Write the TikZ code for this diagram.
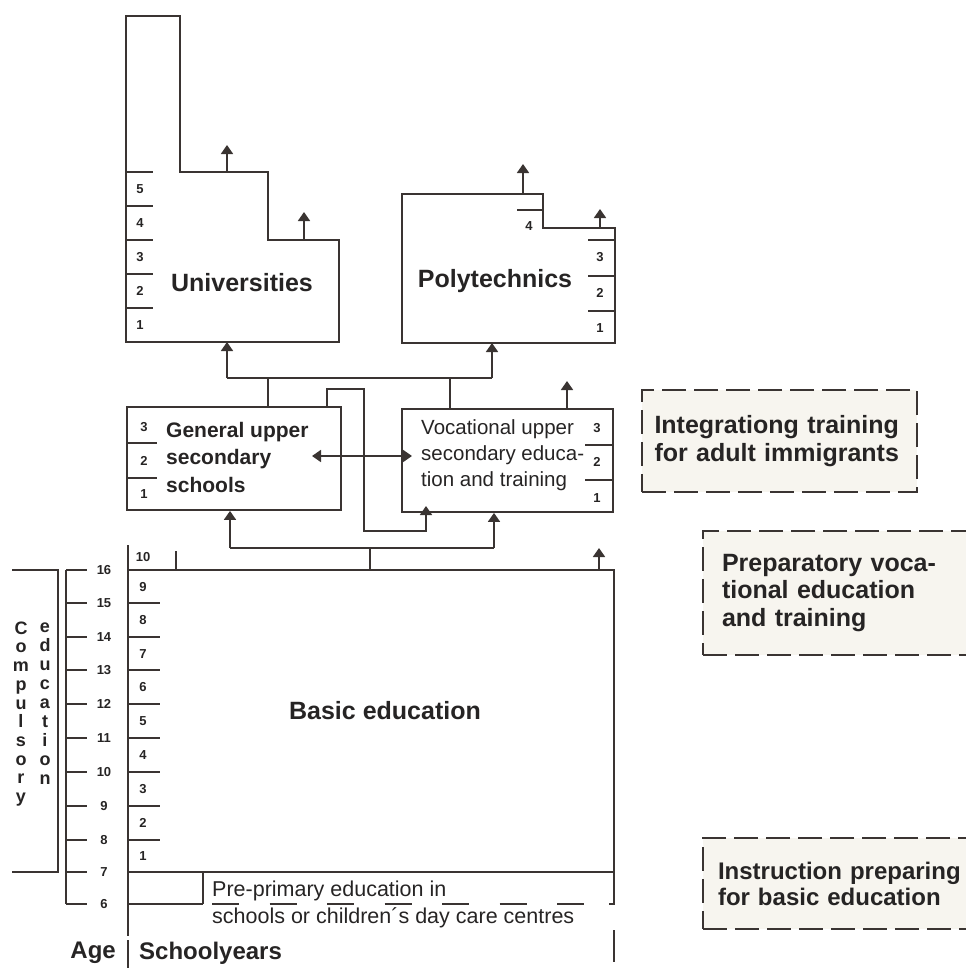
\documentclass[tikz,border=0pt]{standalone}
\usepackage{fontspec}
\setmainfont{Liberation Sans}
\usetikzlibrary{arrows.meta, positioning}
\definecolor{lineink}{RGB}{58,52,50}
\definecolor{textink}{RGB}{38,36,36}
\definecolor{boxfill}{RGB}{247,245,239}

\begin{document}
\begin{tikzpicture}[
    x=1pt, y=-1pt,
    line/.style={draw=lineink, line width=1.8pt, line join=miter},
    arr/.style={line, -{Triangle[width=12pt,length=9pt]}},
    box/.style={line, inner sep=0pt},
    dbox/.style={draw=lineink, line width=1.8pt, fill=boxfill, dash pattern=on 24pt off 8pt, inner sep=0pt, align=left, text=textink},
    yr/.style={font=\fontsize{13}{13}\selectfont\bfseries, text=textink, inner sep=0pt},
    big/.style={font=\fontsize{25}{28}\selectfont\bfseries, text=textink, inner sep=0pt},
    mid/.style={font=\fontsize{21}{27}\selectfont, text=textink, align=left, inner sep=0pt}
]
    \useasboundingbox (0,0) rectangle (966,980);
    \clip (0,0) rectangle (966,980);

    % Universities
    \draw[line] (126,16) -- (180,16) -- (180,172) -- (268,172) -- (268,240) -- (339,240) -- (339,342) -- (126,342) -- cycle;
    \foreach \k/\n in {0/5,1/4,2/3,3/2,4/1} {
        \draw[line] (126,{172+\k*34}) -- (153,{172+\k*34});
        \node[yr] (uy\n) at (140,{189+\k*34}) {\n};
    }
    \node[big] (univ) at (242,283) {Universities};
    \coordinate (univS1) at (227,172);
    \coordinate (univO1) at (227,145);
    \coordinate (univS2) at (304,240);
    \coordinate (univO2) at (304,212);
    \coordinate (univB) at (227,342);
    \draw[arr] (univS1) -- (univO1);
    \draw[arr] (univS2) -- (univO2);

    % Polytechnics
    \draw[line] (402,194) -- (543,194) -- (543,228) -- (615,228) -- (615,343) -- (402,343) -- cycle;
    \draw[line] (517,210) -- (543,210);
    \node[yr] (py4) at (529,226) {4};
    \foreach \y/\n in {240/3,276/2,311/1} {
        \draw[line] (588,\y) -- (615,\y);
        \node[yr] (py\n) at (600,{\y+17}) {\n};
    }
    \node[big] (poly) at (495,281) {Polytechnics};
    \coordinate (polyS1) at (523,194);
    \coordinate (polyO1) at (523,164);
    \coordinate (polyS2) at (600,228);
    \coordinate (polyO2) at (600,209);
    \coordinate (polyB) at (492,343);
    \draw[arr] (polyS1) -- (polyO1);
    \draw[arr] (polyS2) -- (polyO2);

    % Upper secondary
    \node[box, minimum width=214pt, minimum height=103pt] (gen) at (234,458.5) {};
    \draw[line] (127,443) -- (157,443) (127,478) -- (157,478);
    \node[yr] (gy3) at (144,427) {3};
    \node[yr] (gy2) at (144,461) {2};
    \node[yr] (gy1) at (144,494) {1};
    \node[mid, font=\fontsize{21}{27.5}\selectfont\bfseries, anchor=west] (gentxt) at (166,457) {General upper\\secondary\\schools};

    \node[box, minimum width=211pt, minimum height=103pt] (voc) at (507.5,460.5) {};
    \draw[line] (585,445) -- (613,445) (585,480) -- (613,480);
    \node[yr] (vy3) at (597,428) {3};
    \node[yr] (vy2) at (597,462) {2};
    \node[yr] (vy1) at (597,498) {1};
    \node[mid, font=\fontsize{20.5}{26}\selectfont, anchor=west] (voctxt) at (421,455) {Vocational upper\\secondary educa-\\tion and training};

    % to higher education
    \coordinate (upL) at (227,378);
    \coordinate (upR) at (492,378);
    \coordinate (genT) at (268,407);
    \coordinate (vocT) at (450,409);
    \draw[line] (upL) -- (upR);
    \draw[arr] (upL) -- (univB);
    \draw[arr] (upR) -- (polyB);
    \draw[line] (genT) -- (genT |- upL);
    \draw[line] (vocT) -- (vocT |- upR);
    \coordinate (vocS) at (567,409);
    \coordinate (vocO) at (567,381);
    \draw[arr] (vocS) -- (vocO);

    % between the two
    \coordinate (dL) at (312,456);
    \coordinate (dR) at (412,456);
    \draw[line, {Triangle[width=12pt,length=9pt]}-{Triangle[width=12pt,length=9pt]}] (dL) -- (dR);
    \coordinate (crA) at (327,407);
    \coordinate (crB) at (426,506);
    \draw[arr] (crA) |- (364,389) |- (426,531) -- (crB);

    % from basic education
    \coordinate (loL) at (230,548);
    \coordinate (loR) at (494,548);
    \coordinate (loS) at (370,548);
    \coordinate (basT) at (370,570);
    \draw[line] (loL) -- (loR);
    \draw[arr] (loL) -- (loL |- gen.south);
    \draw[arr] (loR) -- (loR |- voc.south);
    \draw[line] (loS) -- (basT);

    % Basic education
    \draw[line] (128,545) -- (128,936);
    \draw[line] (128,570) -- (614,570) -- (614,904) -- (609,904);
    \draw[line] (176,551) -- (176,570);
    \draw[line] (128,872) -- (614,872);
    \draw[line] (203,872) -- (203,904);
    \draw[line] (128,904) -- (203,904);
    \draw[line, dash pattern=on 27pt off 30.5pt] (212,904) -- (590,904);
    \draw[line] (614,930) -- (614,962);
    \node[yr] (by10) at (143,557) {10};
    \foreach \y/\n in {587/9,620/8,654/7,687/6,721/5,755/4,789/3,823/2,856/1} {
        \node[yr] (by\n) at (143,\y) {\n};
    }
    \foreach \y in {603,637,670,704,738,772,806,840} {
        \draw[line] (128,\y) -- (160,\y);
    }
    \node[big] (basic) at (385,711) {Basic education};
    \coordinate (basR) at (599,570);
    \coordinate (basO) at (599,548);
    \draw[arr] (basR) -- (basO);
    \node[mid, font=\fontsize{21.5}{27}\selectfont, anchor=west] (preprim) at (212,904) {Pre-primary education in\\schools or children´s day care centres};

    % Age scale
    \draw[line] (66,570) -- (66,904);
    \foreach \y/\a in {570/16,603/15,637/14,670/13,704/12,738/11,772/10,806/9,840/8,872/7,904/6} {
        \draw[line] (66,\y) -- (87,\y);
        \node[yr] (age\a) at (104,\y) {\a};
    }
    \draw[line] (12,570) -- (58,570) -- (58,872) -- (12,872);
    \node[font=\fontsize{18}{18.7}\selectfont\bfseries, text=textink, align=center, inner sep=0pt] (compul) at (21,714) {C\\o\\m\\p\\u\\l\\s\\o\\r\\y};
    \node[font=\fontsize{18}{19}\selectfont\bfseries, text=textink, align=center, inner sep=0pt] (educ) at (45,704) {e\\d\\u\\c\\a\\t\\i\\o\\n};

    \node[big, font=\fontsize{24}{28}\selectfont\bfseries, anchor=east] (agelbl) at (116,953) {Age};
    \draw[line] (128,940) -- (128,968);
    \node[big, font=\fontsize{24}{28}\selectfont\bfseries, anchor=west] (yearlbl) at (139,953) {Schoolyears};

    % Outside the school system
    \node[dbox, minimum width=275pt, minimum height=102pt, text width=250pt, font=\fontsize{25}{28}\selectfont\bfseries] (integ) at (779.5,441) {Integrationg training\\for adult immigrants};
    \node[dbox, minimum width=282pt, minimum height=124pt, text width=244pt, font=\fontsize{25}{27.5}\selectfont\bfseries] (prep) at (844,593) {Preparatory voca-\\tional education\\and training};
    \node[dbox, minimum width=286pt, minimum height=91pt, text width=256pt, font=\fontsize{24}{26}\selectfont\bfseries] (instr) at (846,883.5) {Instruction preparing\\for basic education};
\end{tikzpicture}
\end{document}
